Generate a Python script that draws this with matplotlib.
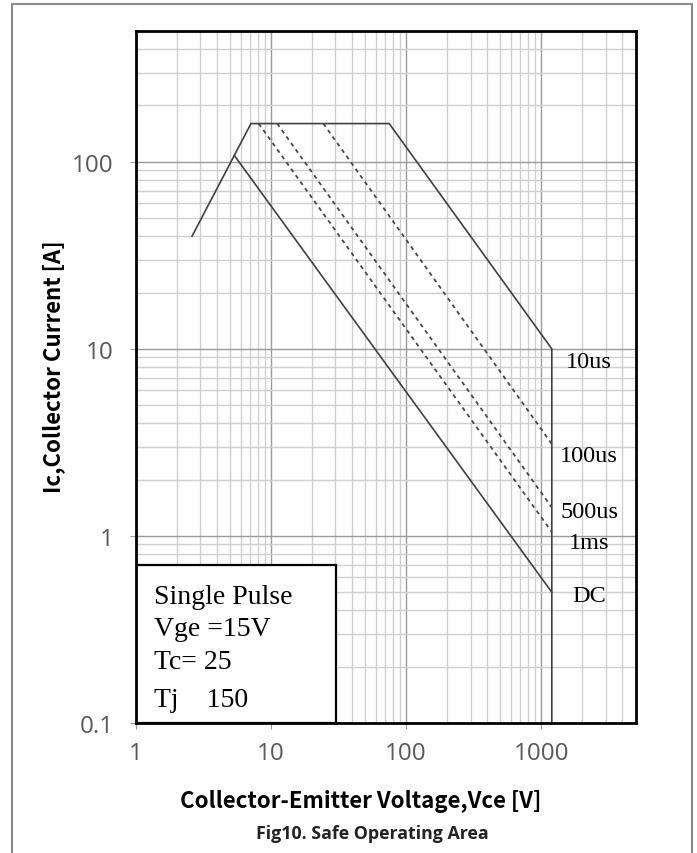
import matplotlib
matplotlib.use("Agg")
import matplotlib.pyplot as plt
from matplotlib.lines import Line2D
from matplotlib.patches import Rectangle
from matplotlib.ticker import NullFormatter

# ---- data ----
x_ticks = [1, 10, 100, 1000]
x_tick_labels = ["1", "10", "100", "1000"]
y_ticks = [0.1, 1, 10, 100]
y_tick_labels = ["0.1", "1", "10", "100"]

# 10us boundary (solid), incl. the vertical limit at rated voltage
us10_v = [2.6, 7.1, 75, 1200, 1200]
us10_i = [40, 160, 160, 10, 0.1]

# DC boundary (solid)
dc_v = [5.35, 1200]
dc_i = [108, 0.5]

# dashed pulse boundaries
pulse_names = ["100us", "500us", "1ms"]
pulse_start_v = [24.4, 11.1, 8.1]
pulse_start_i = [160, 160, 160]
pulse_end_v = [1200, 1200, 1200]
pulse_end_i = [3.1, 1.42, 1.05]

curve_labels = ["10us", "100us", "500us", "1ms", "DC"]
box_lines = ["Single Pulse", "Vge =15V", "Tc= 25", "Tj    150"]

# ---- figure ----
W, H = 697, 854
fig = plt.figure(figsize=(W / 100, H / 100), dpi=100)
L, R, T, B = 136, 635.5, 32, 724
ax = fig.add_axes([L / W, 1 - B / H, (R - L) / W, (B - T) / H])
ax.set_xscale("log")
ax.set_yscale("log")
ax.set_xlim(1, 5000)
ax.set_ylim(0.1, 500)

ax.grid(True, which="major", color="#9a9a9a", lw=1.0, zorder=0)
ax.grid(True, which="minor", color="#cfcfcf", lw=1.0, zorder=0)
ax.set_axisbelow(True)

line_col = "#404040"
ax.plot(us10_v, us10_i, color=line_col, lw=1.2, zorder=3)
ax.plot(dc_v, dc_i, color=line_col, lw=1.2, zorder=3)
for sv, si, ev, ei in zip(pulse_start_v, pulse_start_i, pulse_end_v, pulse_end_i):
    ax.plot([sv, ev], [si, ei], color="#474747", lw=1.3, ls=(0, (2.2, 2.2)), zorder=3)

ax.set_xticks(x_ticks)
ax.set_xticklabels(x_tick_labels)
ax.set_yticks(y_ticks)
ax.set_yticklabels(y_tick_labels)
ax.xaxis.set_minor_formatter(NullFormatter())
ax.yaxis.set_minor_formatter(NullFormatter())
ax.tick_params(which="minor", length=0)
ax.tick_params(which="major", length=4, color="#9a9a9a", direction="out")
ax.tick_params(axis="x", which="major", pad=9)
ax.tick_params(axis="y", which="major", pad=12)
for lab in ax.get_xticklabels() + ax.get_yticklabels():
    lab.set_fontfamily(["Open Sans", "DejaVu Sans"])
    lab.set_fontsize(17.5)
    lab.set_color("#595959")

for s in ax.spines.values():
    s.set_color("black")
    s.set_linewidth(2)
    s.set_zorder(5)

# text box
bx0, bx1, by0, by1 = 136, 336, 565.6, 724
ax.add_patch(Rectangle(((bx0 - L) / (R - L), 0), (bx1 - bx0) / (R - L), (by1 - by0) / (B - T),
                       transform=ax.transAxes, facecolor="white", edgecolor="black",
                       lw=1.6, zorder=4))
box_baselines = [604, 636, 669, 707.5]
for txt, yb in zip(box_lines, box_baselines):
    fig.text(154 / W, 1 - yb / H, txt, family="Liberation Serif", fontsize=20,
             va="baseline", ha="left", zorder=6)

# curve labels
lab_baselines = [368, 462, 518, 549, 602]
for txt, yb in zip(curve_labels, lab_baselines):
    fig.text(589 / W, 1 - yb / H, txt, family="Liberation Serif", fontsize=17.5,
             va="baseline", ha="center", zorder=6)

# axis labels and caption
sans = ["Noto Sans CJK SC", "DejaVu Sans"]
fig.text(54 / W, 1 - 366.5 / H, "Ic,Collector Current [A]", rotation=90, family=sans,
         fontsize=16, fontweight="bold", ha="center", va="center")
fig.text(360.5 / W, 1 - 802 / H, "Collector-Emitter Voltage,Vce [V]", family=sans,
         fontsize=16, fontweight="bold", ha="center", va="center")
fig.text(372.5 / W, 1 - 834 / H, "Fig10. Safe Operating Area", family=["Open Sans", "DejaVu Sans"],
         fontsize=12.8, fontweight="bold", ha="center", va="center", color="#222222")

# outer frame (open at the bottom)
fc = "#8a8a8a"
fig.add_artist(Line2D([11.7 / W, 11.7 / W], [0, 1 - 4.7 / H], color=fc, lw=1.5,
                      transform=fig.transFigure))
fig.add_artist(Line2D([11.7 / W, 692 / W], [1 - 4.7 / H, 1 - 4.7 / H], color=fc, lw=1.5,
                      transform=fig.transFigure))
fig.add_artist(Line2D([692 / W, 692 / W], [0, 1 - 4.7 / H], color=fc, lw=1.5,
                      transform=fig.transFigure))

fig.savefig("out.png", dpi=100, facecolor="white")
